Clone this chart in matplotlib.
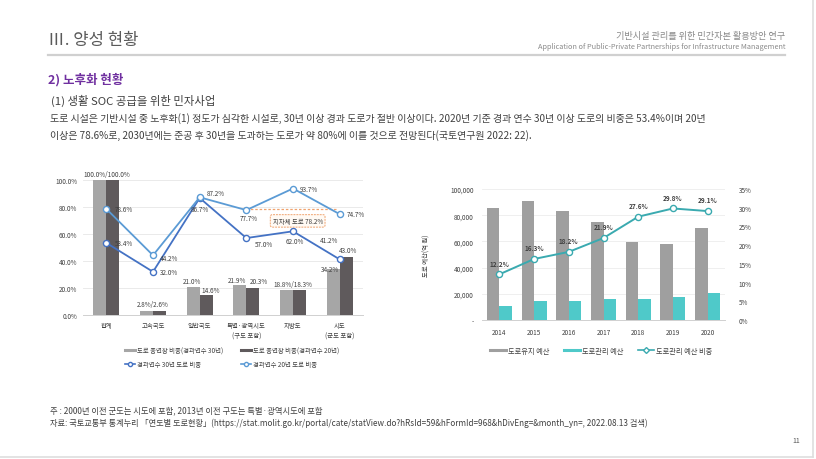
import matplotlib
matplotlib.use("Agg")
import matplotlib.pyplot as plt
from matplotlib.lines import Line2D
import numpy as np

plt.rcParams['font.family'] = ['Noto Sans CJK KR', 'DejaVu Sans']

# ---------------- data ----------------
left_categories = ['합계', '고속국도', '일반국도', '특별·광역시도\n(구도 포함)', '지방도', '시도\n(군도 포함)']
bar30 = [100.0, 2.8, 21.0, 21.9, 18.8, 34.2]
bar20 = [100.0, 2.6, 14.6, 20.3, 18.3, 43.0]
line30 = [53.4, 32.0, 86.7, 57.0, 62.0, 41.2]
line20 = [78.6, 44.2, 87.2, 77.7, 93.7, 74.7]
local_avg = 78.2
left_yticks = [0, 20, 40, 60, 80, 100]

years = ['2014', '2015', '2016', '2017', '2018', '2019', '2020']
budget_total = [85500, 90800, 83200, 74800, 59500, 58000, 70200]
budget_mgmt = [10700, 14500, 14800, 16000, 16000, 17500, 20600]
mgmt_ratio = [12.2, 16.3, 18.2, 21.9, 27.6, 29.8, 29.1]
right_yticks = [0, 20000, 40000, 60000, 80000, 100000]
right_ytick_labels = ['-', '20,000', '40,000', '60,000', '80,000', '100,000']
ratio_ticks = [0, 5, 10, 15, 20, 25, 30, 35]

W, H = 816, 460
fig = plt.figure(figsize=(W / 100, H / 100), dpi=100)
fig.patch.set_facecolor('white')

def fx(x):
    return x / W

def fy(y):
    return 1 - y / H

def rect(l, t, r, b):
    return [fx(l), fy(b), (r - l) / W, (b - t) / H]

# ---------------- slide text ----------------
fig.text(fx(48), fy(41), 'Ⅲ. 양성 현황', fontsize=12, color='#5a5a5a', va='center', ha='left')
fig.text(fx(785), fy(36), '기반시설 관리를 위한 민간자본 활용방안 연구', fontsize=6.6, color='#8a8a8a', ha='right', va='center')
fig.text(fx(785), fy(47), 'Application of Public-Private Partnerships for Infrastructure Management', fontsize=5.3, color='#8a8a8a', ha='right', va='center')
fig.add_artist(Line2D([fx(48), fx(785)], [fy(56), fy(56)], color='#d0d0d0', lw=1.6))
fig.text(fx(48), fy(80), '2) 노후화 현황', fontsize=9, color='#7030a0', fontweight='bold', va='center')
fig.text(fx(51), fy(101), '(1) 생활 SOC 공급을 위한 민자사업', fontsize=8.2, color='#404040', va='center')
fig.text(fx(50), fy(119), '도로 시설은 기반시설 중 노후화(1) 정도가 심각한 시설로, 30년 이상 경과 도로가 절반 이상이다. 2020년 기준 경과 연수 30년 이상 도로의 비중은 53.4%이며 20년',
         fontsize=7.2, color='#404040', va='center')
fig.text(fx(50), fy(136), '이상은 78.6%로, 2030년에는 준공 후 30년을 도과하는 도로가 약 80%에 이를 것으로 전망된다(국토연구원 2022: 22).',
         fontsize=7.2, color='#404040', va='center')

fig.text(fx(50), fy(411), '주 : 2000년 이전 군도는 시도에 포함, 2013년 이전 구도는 특별·광역시도에 포함', fontsize=6.0, color='#404040', va='center')
fig.text(fx(50), fy(423), '자료: 국토교통부 통계누리 「연도별 도로현황」(https://stat.molit.go.kr/portal/cate/statView.do?hRsId=59&hFormId=968&hDivEng=&month_yn=, 2022.08.13 검색)',
         fontsize=5.9, color='#404040', va='center')
fig.text(fx(796), fy(441), '11', fontsize=5, color='#555555', ha='center', va='center')

# slide border
fig.add_artist(Line2D([fx(813), fx(813)], [fy(0), fy(458)], color='#dedede', lw=1.2))
fig.add_artist(Line2D([fx(0), fx(813)], [fy(458), fy(458)], color='#dedede', lw=1.2))

txt = '#404040'
fs = 4.6

# ---------------- left chart ----------------
ax = fig.add_axes(rect(83, 181, 363, 316))
x = np.arange(len(left_categories))
bw = 0.28
ax.bar(x - bw / 2, bar30, bw, color='#a6a6a6', zorder=2)
ax.bar(x + bw / 2, bar20, bw, color='#5f5a5c', zorder=2)
ax.plot(x, line30, color='#4472c4', lw=1.3, marker='o', ms=4.4, mfc='white', mec='#4472c4', mew=1.0, zorder=4)
ax.plot(x, line20, color='#5b9bd5', lw=1.3, marker='o', ms=4.4, mfc='white', mec='#5b9bd5', mew=1.0, zorder=4)
ax.set_xlim(-0.5, len(left_categories) - 0.5)
ax.set_ylim(0, 100)
ax.set_yticks(left_yticks)
ax.set_yticklabels([f'{v:.1f}%' for v in left_yticks], fontsize=fs, color=txt)
ax.set_xticks(x)
ax.set_xticklabels(left_categories, fontsize=fs, color=txt, linespacing=1.5)
ax.tick_params(length=0, pad=4)
ax.grid(axis='y', color='#e6e6e6', lw=0.6, zorder=0)
for s in ['top', 'right', 'left']:
    ax.spines[s].set_visible(False)
ax.spines['bottom'].set_color('#d0d0d0')
ax.spines['bottom'].set_linewidth(0.7)

def lab(a, xv, yv, s, dx, dy, ha='left', va='center', **kw):
    a.annotate(s, (xv, yv), xytext=(dx, dy), textcoords='offset points', fontsize=fs, color=txt,
               ha=ha, va=va, annotation_clip=False, zorder=6, **kw)

# bar labels
lab(ax, 0, bar30[0], f'{bar30[0]:.1f}%/{bar20[0]:.1f}%', 0, 4, ha='center')
lab(ax, 1, bar30[1], f'{bar30[1]:.1f}%/{bar20[1]:.1f}%', 0, 5, ha='center')
lab(ax, 2 - bw / 2, bar30[2], f'{bar30[2]:.1f}%', -1, 4, ha='center')
lab(ax, 2 + bw / 2, bar20[2], f'{bar20[2]:.1f}%', 3, 4, ha='center')
lab(ax, 3 - bw / 2, bar30[3], f'{bar30[3]:.1f}%', -2, 4, ha='center')
lab(ax, 3 + bw / 2, bar20[3], f'{bar20[3]:.1f}%', 4, 5, ha='center')
lab(ax, 4, max(bar30[4], bar20[4]), f'{bar30[4]:.1f}%/{bar20[4]:.1f}%', 0, 4, ha='center')
lab(ax, 5 - bw / 2, bar30[5], f'{bar30[5]:.1f}%', -2, 0, ha='center')
lab(ax, 5 + bw / 2, bar20[5], f'{bar20[5]:.1f}%', 1, 5, ha='center')

# line labels (20년)
off20 = [(6, 0, 'left'), (5, -2, 'left'), (5, 3, 'left'), (2, -6, 'center'), (5, 0, 'left'), (5, 0, 'left')]
for i, (dx, dy, ha) in enumerate(off20):
    lab(ax, i, line20[i], f'{line20[i]:.1f}%', dx, dy, ha=ha)
# line labels (30년)
off30 = [(6, 0, 'left'), (5, 0, 'left'), (0, -8, 'center'), (6, -4, 'left'), (1, -7, 'center'), (-8, 14, 'center')]
for i, (dx, dy, ha) in enumerate(off30):
    lab(ax, i, line30[i], f'{line30[i]:.1f}%', dx, dy, ha=ha)

# local-government average annotation
ax.plot([3, 5 - 0.05], [local_avg, local_avg], color='#f0a36e', lw=0.9, ls=(0, (2, 1.5)), zorder=3)
ax.text(4.1, local_avg - 8.5, f'지자체 도로 {local_avg:.1f}%', fontsize=fs, color=txt, ha='center', va='center', zorder=6,
        bbox=dict(boxstyle='round,pad=0.35,rounding_size=0.3', fc='#fffaf4', ec='#f0a36e', lw=0.7, ls=(0, (2, 1))))

handles_l = [
    Line2D([], [], color='#a6a6a6', lw=2.2),
    Line2D([], [], color='#4472c4', lw=1.2, marker='o', ms=3, mfc='white', mec='#4472c4'),
    Line2D([], [], color='#5f5a5c', lw=2.2),
    Line2D([], [], color='#5b9bd5', lw=1.2, marker='o', ms=3, mfc='white', mec='#5b9bd5'),
]
labels_l = ['도로 총연장 비중(경과연수 30년)', '경과연수 30년 도로 비중', '도로 총연장 비중(경과연수 20년)', '경과연수 20년 도로 비중']
fig.legend(handles_l, labels_l, loc='center', bbox_to_anchor=(fx(232), fy(358.5)), ncol=2, frameon=False,
           fontsize=fs, handlelength=1.6, handletextpad=0.3, columnspacing=2.8, labelspacing=0.9,
           labelcolor=txt)

# ---------------- right chart ----------------
ax2 = fig.add_axes(rect(482, 190, 725, 321))
xr = np.arange(len(years))
bw2 = 0.36
ax2.bar(xr - bw2 / 2, budget_total, bw2, color='#9f9f9f', zorder=2)
ax2.bar(xr + bw2 / 2, budget_mgmt, bw2, color='#4fc9c9', zorder=2)
ax2.set_xlim(-0.5, len(years) - 0.5)
ax2.set_ylim(0, 100000)
ax2.set_yticks(right_yticks)
ax2.set_yticklabels(right_ytick_labels, fontsize=fs, color=txt)
ax2.set_xticks(xr)
ax2.set_xticklabels(years, fontsize=fs, color=txt)
ax2.tick_params(length=0, pad=6)
ax2.grid(axis='y', color='#ececec', lw=0.6, zorder=0)
for s in ['top', 'right', 'left']:
    ax2.spines[s].set_visible(False)
ax2.spines['bottom'].set_color('#d0d0d0')
ax2.spines['bottom'].set_linewidth(0.7)
ax2.set_ylabel('도로 예산(억 원)', fontsize=fs, color=txt, labelpad=14)

ax3 = ax2.twinx()
ax3.plot(xr, mgmt_ratio, color='#3aaab0', lw=1.4, marker='o', ms=4.4, mfc='white', mec='#3aaab0', mew=1.0, zorder=4)
ax3.set_ylim(0, 35)
ax3.set_yticks(ratio_ticks)
ax3.set_yticklabels([f'{v}%' for v in ratio_ticks], fontsize=fs, color=txt)
ax3.tick_params(length=0, pad=10)
for s in ['top', 'right', 'left', 'bottom']:
    ax3.spines[s].set_visible(False)
for i, v in enumerate(mgmt_ratio):
    lab(ax3, i, v, f'{v:.1f}%', 0, 8, ha='center', fontweight='bold')

handles_r = [
    Line2D([], [], color='#9f9f9f', lw=2.2),
    Line2D([], [], color='#4fc9c9', lw=2.2),
    Line2D([], [], color='#3aaab0', lw=1.2, marker='D', ms=3, mfc='white', mec='#3aaab0'),
]
labels_r = ['도로유지 예산', '도로관리 예산', '도로관리 예산 비중']
fig.legend(handles_r, labels_r, loc='center', bbox_to_anchor=(fx(601), fy(352)), ncol=3, frameon=False,
           fontsize=5.2, handlelength=2.2, handletextpad=0.3, columnspacing=2.0, labelcolor=txt)

fig.savefig('out.png', dpi=100)
